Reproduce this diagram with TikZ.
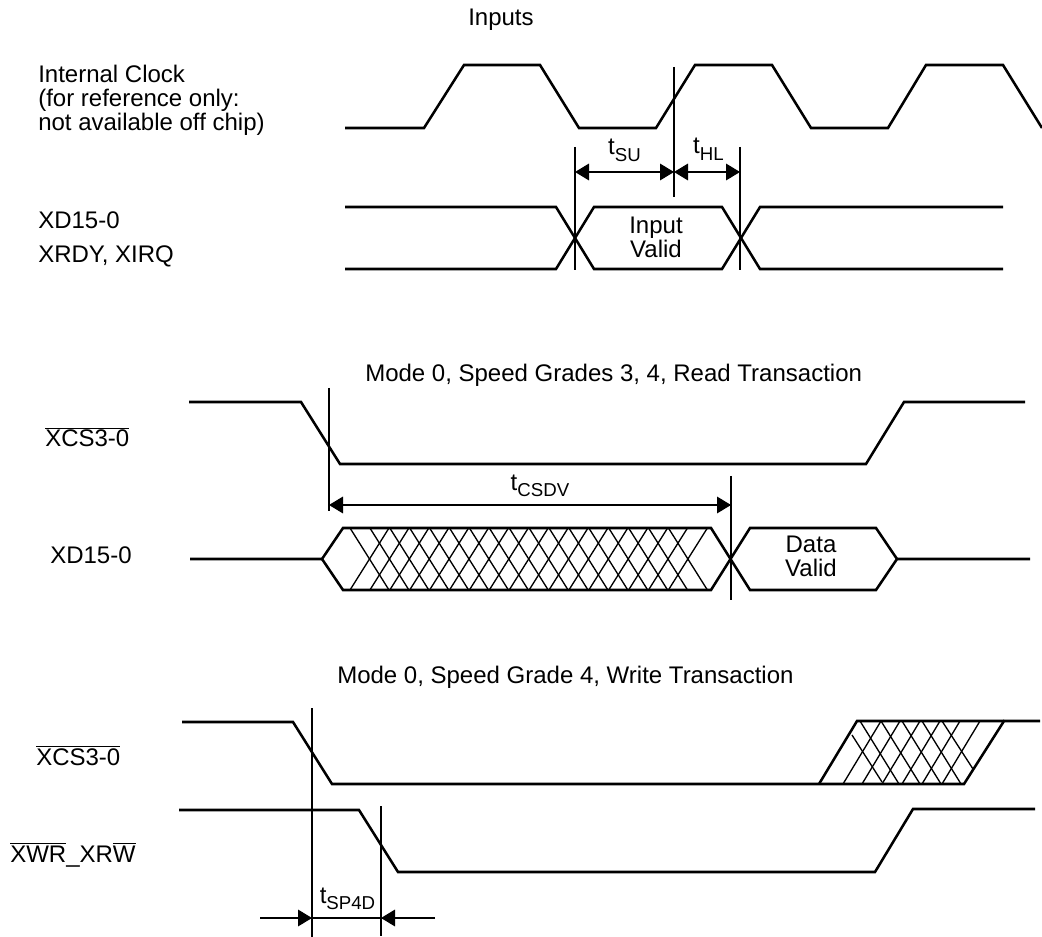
\documentclass[tikz,border=0pt]{standalone}
\usepackage{fontspec}
\setmainfont{Liberation Sans}
\usetikzlibrary{arrows.meta}
\newcommand{\lbl}{\fontsize{18pt}{18pt}\selectfont}
\newcommand{\tsub}[1]{t\raisebox{-5pt}{\fontsize{14pt}{14pt}\selectfont #1}}
\newcommand{\ovl}[1]{$\overline{\hbox{#1}}$}
\tikzset{
  wave/.style={line width=1.9pt,line join=miter,black},
  hatch/.style={line width=1pt,black},
  tick/.style={line width=0.8pt,black},
  dim/.style={line width=0.95pt,black,{Triangle[length=10.5pt,width=12.5pt]}-{Triangle[length=10.5pt,width=12.5pt]}},
  dimin/.style={line width=0.95pt,black,-{Triangle[length=10.5pt,width=12.5pt]}},
  txt/.style={inner sep=0pt,font=\lbl,text=black},
  basel/.style={txt,anchor=base west},
  basec/.style={txt,anchor=base},
  leftxt/.style={txt,align=left,anchor=west},
  ctr/.style={txt,align=center}
}
\begin{document}
\begin{tikzpicture}[x=0.75pt,y=-0.75pt]
\useasboundingbox (0,0) rectangle (1042,937);
% titles
\node[basel] (inputs) at (468,26) {Inputs};
\node[basel] (t2) at (365,382) {Mode 0, Speed Grades 3, 4, Read Transaction};
\node[basel] (t3) at (337,683) {Mode 0, Speed Grade 4, Write Transaction};
% signal labels
\node[leftxt] (clk) at (38,100.5) {Internal Clock\\(for reference only:\\not available off chip)};
\node[basel] (xd1) at (38,229) {XD15-0};
\node[basel] (xrdy) at (38,263) {XRDY, XIRQ};
\node[basel] (cs1) at (45,447) {\ovl{XCS3-0}};
\node[basel] (xd2) at (50,563) {XD15-0};
\node[basel] (cs2) at (36,765) {\ovl{XCS3-0}};
\node[basel] (wr) at (10,862) {\ovl{XWR}\_XR\ovl{W}};
% inputs waves
\draw[wave] (345,128) -- (424,128) -- (464,65) -- (540,65) -- (579,128) -- (656,128) -- (695,65) -- (772,65) -- (811,128) -- (888,128) -- (926,65) -- (1003,65) -- (1042,128);
\draw[wave] (345,207) -- (556,207) -- (594,269) -- (722,269) -- (760,207) -- (1003,207);
\draw[wave] (345,269) -- (556,269) -- (594,207) -- (722,207) -- (760,269) -- (1003,269);
\node[ctr] (iv) at (656,237) {Input\\Valid};
% input ticks and dims
\coordinate (a1) at (575,172); \coordinate (a2) at (674,172); \coordinate (a3) at (740,172);
\draw[tick] (575,147) -- (575,270);
\draw[tick] (674,67) -- (674,197);
\draw[tick] (740,147) -- (740,270);
\draw[dim] (a1) -- (a2);
\draw[dim] (a2) -- (a3);
\node[basec] (tsu) at (624.5,155) {\tsub{SU}};
\node[basec] (thl) at (708.5,154) {\tsub{HL}};
% read
\draw[wave] (189,402) -- (301,402) -- (340,464) -- (866,464) -- (904,402) -- (1025,402);
\draw[wave] (190,559) -- (322,559) -- (343,528) -- (711,528) -- (750,590) -- (876,590) -- (897,559) -- (1030,559);
\draw[wave] (322,559) -- (343,590) -- (711,590) -- (750,528) -- (876,528) -- (897,559);
\foreach \k in {0,...,16} {
  \pgfmathsetmacro{\xa}{350+19.9*\k}
  \draw[hatch] (\xa,528) -- (\xa+39,590);
  \draw[hatch] (\xa,590) -- (\xa+39,528);
}
\node[ctr] (dv) at (811,556.5) {Data\\Valid};
\coordinate (b1) at (329,505); \coordinate (b2) at (731,505);
\draw[tick] (329,388) -- (329,511);
\draw[tick] (731,476) -- (731,600);
\draw[dim] (b1) -- (b2);
\node[basec] (tcsdv) at (540,490) {\tsub{CSDV}};
% write
\draw[wave] (182,722) -- (293,722) -- (332,784) -- (964,784) -- (1004,721) -- (1040,721);
\draw[wave] (819,784) -- (857,721) -- (1004,721);
\foreach \xa in {860,881,902,922} \draw[hatch] (\xa,721) -- (\xa+39,784);
\draw[hatch] (942,721) -- (973,769);
\draw[hatch] (852,735) -- (882,782);
\foreach \xa in {843,862,882,902,922,942} \draw[hatch] (\xa,784) -- (\xa+38,721);
\draw[wave] (179,810) -- (359,810) -- (398,872) -- (875,872) -- (913,809) -- (1035,809);
\coordinate (c1) at (312,918); \coordinate (c2) at (381,918);
\coordinate (c0) at (260,918); \coordinate (c3) at (435,918);
\draw[tick] (312,708) -- (312,937);
\draw[tick] (381,806) -- (381,936);
\draw[dimin] (c0) -- (c1);
\draw[dimin] (c3) -- (c2);
\draw[line width=0.95pt] (c1) -- (c2);
\node[basec] (tsp) at (347.5,903) {\tsub{SP4D}};
\end{tikzpicture}
\end{document}
